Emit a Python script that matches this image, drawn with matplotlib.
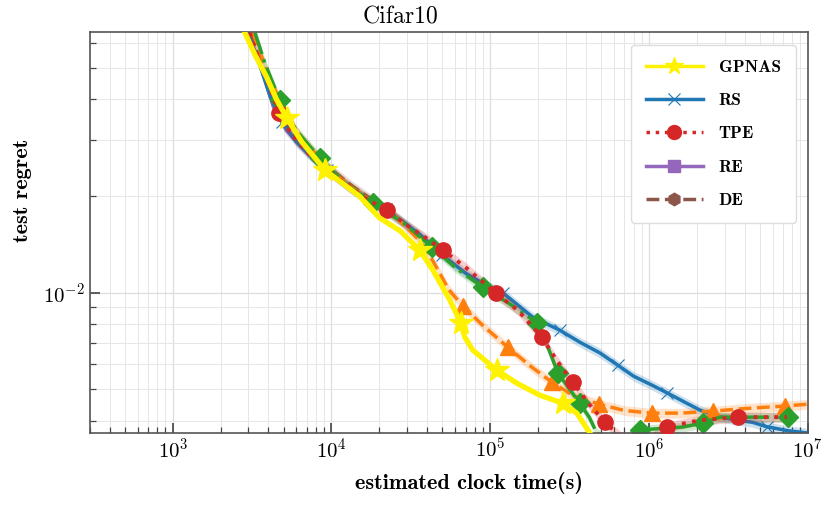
import numpy as np
import matplotlib
matplotlib.use("Agg")
import matplotlib.pyplot as plt
from matplotlib.lines import Line2D
from matplotlib.ticker import LogLocator, NullFormatter

plt.rcParams['font.family'] = 'serif'
plt.rcParams['font.serif'] = ['cmr10', 'DejaVu Serif']
plt.rcParams['mathtext.fontset'] = 'cm'
plt.rcParams['axes.formatter.use_mathtext'] = True

# GPNAS (yellow, stars)
gp_x = [2850, 3300, 3900, 4500, 5240, 6500, 9100, 15000, 20100, 27000, 35900, 43400,
        55600, 65200, 69100, 77600, 110000, 147000, 205000, 286000, 351000, 424000]
gp_y = [6.45e-2, 5.5e-2, 4.7e-2, 4.0e-2, 3.5e-2, 2.95e-2, 2.41e-2, 2.0e-2, 1.71e-2, 1.56e-2, 1.36e-2, 1.18e-2,
        9.5e-3, 8.05e-3, 7.28e-3, 6.63e-3, 5.74e-3, 5.23e-3, 4.80e-3, 4.53e-3, 4.22e-3, 3.66e-3]
gp_marks = [4, 6, 10, 13, 16, 19]

# RS (blue, x)
rs_x = [2950, 3500, 4100, 4900, 6000, 7500, 9340, 12000, 15000, 22000, 28000, 36000, 50000, 70000,
        100000, 120000, 185000, 274000, 370000, 490000, 636000, 800000, 1050000, 1300000, 1700000,
        2100000, 2700000, 3500000, 4500000, 5500000, 7500000, 10000000]
rs_y = [6.45e-2, 5.2e-2, 4.1e-2, 3.4e-2, 2.95e-2, 2.64e-2, 2.42e-2, 2.2e-2, 2.02e-2, 1.82e-2, 1.67e-2, 1.52e-2,
        1.31e-2, 1.15e-2, 1.04e-2, 1.0e-2, 8.4e-3, 7.65e-3, 7.0e-3, 6.5e-3, 5.95e-3, 5.5e-3, 5.15e-3, 4.88e-3,
        4.55e-3, 4.31e-3, 4.12e-3, 4.02e-3, 3.95e-3, 3.83e-3, 3.72e-3, 3.66e-3]
rs_marks = [3, 6, 9, 12, 15, 17, 20, 23, 29]

# TPE (red, circles)
tpe_x = [3050, 3600, 4700, 5500, 7000, 9000, 12000, 16000, 22300, 30000, 38000, 50100, 70000, 109000,
         150000, 211000, 260000, 331000, 420000, 527000, 650000, 800000, 1000000, 1290000, 2080000,
         3620000, 7400000]
tpe_y = [6.45e-2, 5.1e-2, 3.62e-2, 3.15e-2, 2.75e-2, 2.45e-2, 2.2e-2, 1.98e-2, 1.81e-2, 1.62e-2, 1.5e-2,
         1.36e-2, 1.2e-2, 9.96e-3, 8.8e-3, 7.28e-3, 6.2e-3, 5.27e-3, 4.5e-3, 3.95e-3, 3.6e-3, 3.4e-3,
         3.5e-3, 3.82e-3, 4.01e-3, 4.10e-3, 4.10e-3]
tpe_marks = [2, 8, 11, 13, 15, 17, 19, 23, 25]

# unlabeled green run (diamonds)
g_x = [3300, 3800, 4720, 6000, 8450, 12000, 18200, 28000, 42900, 60000, 89700, 130000, 198000, 230000,
       267000, 366000, 420000, 469000, 550000, 700000, 874000, 1200000, 1630000, 2180000, 2790000,
       4500000, 7480000]
g_y = [6.45e-2, 5.2e-2, 3.98e-2, 3.2e-2, 2.63e-2, 2.2e-2, 1.90e-2, 1.66e-2, 1.39e-2, 1.2e-2, 1.04e-2,
       9.3e-3, 8.05e-3, 6.8e-3, 5.62e-3, 4.53e-3, 4.1e-3, 3.66e-3, 3.45e-3, 3.5e-3, 3.74e-3, 3.78e-3,
       3.82e-3, 3.93e-3, 4.10e-3, 4.10e-3, 4.10e-3]
g_marks = [2, 4, 6, 8, 10, 12, 14, 15, 20, 23, 26]

# unlabeled orange run (triangles)
o_x = [3200, 3700, 4300, 5000, 6000, 7500, 9500, 13000, 18000, 25000, 36000, 43400, 55000, 67200, 90000,
       129000, 180000, 244000, 330000, 483000, 700000, 1040000, 1600000, 2520000, 4000000, 7160000, 10000000]
o_y = [6.45e-2, 5.3e-2, 4.4e-2, 3.75e-2, 3.2e-2, 2.8e-2, 2.45e-2, 2.15e-2, 1.92e-2, 1.74e-2, 1.45e-2,
       1.26e-2, 1.02e-2, 9.1e-3, 7.9e-3, 6.77e-3, 5.9e-3, 5.27e-3, 4.8e-3, 4.5e-3, 4.3e-3, 4.22e-3,
       4.22e-3, 4.28e-3, 4.36e-3, 4.44e-3, 4.50e-3]
o_marks = [13, 15, 17, 19, 21, 23, 25]

# RE (purple) and DE (brown), mostly hidden under the others
re_x = [3000, 3600, 4300, 5200, 6500, 9000, 13000, 20000]
re_y = [6.45e-2, 5.0e-2, 3.8e-2, 3.2e-2, 2.85e-2, 2.45e-2, 2.12e-2, 1.86e-2]
de_x = [3100, 3700, 4400, 5300, 6600, 9200, 13500, 21000]
de_y = [6.45e-2, 5.1e-2, 3.9e-2, 3.3e-2, 2.9e-2, 2.5e-2, 2.15e-2, 1.85e-2]

spread = 0.035

fig = plt.figure(figsize=(8.31, 5.07), dpi=100)
ax = fig.add_axes([0.108, 0.146, 0.864, 0.791])


def curve(x, y, color, ls, marker, ms, marks, lw=2.5, z=2, band=True, mew=1.0):
    x = np.array(x, float)
    y = np.array(y, float)
    if band:
        ax.fill_between(x, y * (1 - spread), y * (1 + spread), color=color, alpha=0.22, lw=0, zorder=z - 0.5)
    ax.plot(x, y, color=color, ls=ls, lw=lw, marker=marker, ms=ms, markevery=marks,
            mew=mew, zorder=z)


curve(re_x, re_y, '#9467bd', '-', 's', 9, [], z=1.5)
curve(de_x, de_y, '#8c564b', '--', 'h', 9, [], z=1.6)
curve(rs_x, rs_y, '#1f77b4', '-', 'x', 8, rs_marks, z=2, mew=0.8)
curve(o_x, o_y, '#ff7f0e', '--', '^', 11, o_marks, z=2.2)
curve(g_x, g_y, '#2ca02c', '-.', 'D', 10, g_marks, z=2.4)
curve(tpe_x, tpe_y, '#d62728', ':', 'o', 11, tpe_marks, lw=2.8, z=2.6)
curve(gp_x, gp_y, '#fff200', '-', '*', 18, gp_marks, lw=3.8, z=4, band=False)

ax.set_xscale('log')
ax.set_yscale('log')
ax.set_xlim(300, 1e7)
ax.set_ylim(3.66e-3, 6.49e-2)

ax.yaxis.set_major_locator(LogLocator(base=10))
ax.yaxis.set_minor_locator(LogLocator(base=10, subs=np.arange(2, 10)))
ax.yaxis.set_minor_formatter(NullFormatter())
ax.xaxis.set_minor_locator(LogLocator(base=10, subs=np.arange(2, 10)))
ax.xaxis.set_minor_formatter(NullFormatter())

ax.grid(True, which='major', color='#dddddd', lw=0.9)
ax.grid(True, which='minor', color='#e6e6e6', lw=0.7)
ax.set_axisbelow(True)
for s in ax.spines.values():
    s.set_color('#555555')
    s.set_linewidth(1.2)
ax.tick_params(which='both', direction='in', colors='#444444', labelcolor='black', labelsize=15)
ax.tick_params(which='major', length=7, width=1.2)
ax.tick_params(which='minor', length=4, width=0.9)

ax.set_title('Cifar10', fontsize=17, fontfamily='cmr10', pad=6, x=0.433)
ax.set_xlabel('estimated clock time(s)', fontsize=16, fontfamily='cmb10', labelpad=7, x=0.528)
ax.set_ylabel('test regret', fontsize=16, fontfamily='cmb10', labelpad=8, y=0.606)

handles = [
    Line2D([], [], color='#fff200', lw=2.5, marker='*', ms=13),
    Line2D([], [], color='#1f77b4', lw=2.5, marker='x', ms=9, mew=0.8),
    Line2D([], [], color='#d62728', lw=2.5, ls=':', marker='o', ms=10),
    Line2D([], [], color='#9467bd', lw=2.5, marker='s', ms=9),
    Line2D([], [], color='#8c564b', lw=2.5, ls='--', marker='h', ms=9),
]
labels = ['GPNAS', 'RS', 'TPE', 'RE', 'DE']
leg = ax.legend(handles, labels, loc='upper right', bbox_to_anchor=(0.983, 0.968),
                prop={'family': 'cmb10', 'size': 12.5},
                handlelength=3.3, labelspacing=1.05, borderpad=0.85, handletextpad=0.9,
                borderaxespad=0.0, fancybox=True, framealpha=1.0, edgecolor='#dddddd')

fig.savefig('out.png', dpi=100)
